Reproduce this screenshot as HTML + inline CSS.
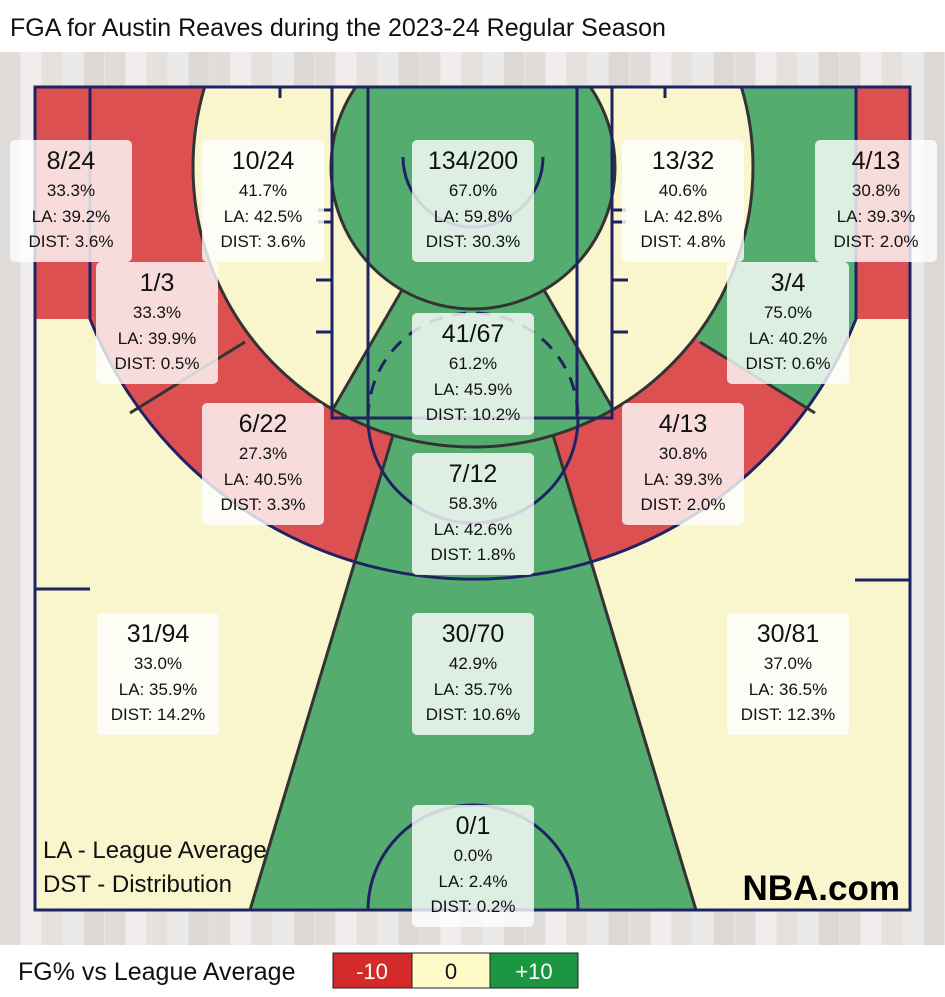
<!DOCTYPE html>
<html><head><meta charset="utf-8">
<style>
body{margin:0;background:#fff;width:945px;height:997px;overflow:hidden;font-family:"Liberation Sans Narrow","Liberation Sans",sans-serif;}
svg{display:block}
</style></head>
<body>
<svg id="chart" width="945" height="997" viewBox="0 0 945 997" xmlns="http://www.w3.org/2000/svg">
<defs>
 <clipPath id="courtClip"><rect x="35" y="87" width="875" height="823"/></clipPath>
 <clipPath id="arcClip"><path d="M90,87 L90,319 A412,412 0 0 0 856,319 L856,87 Z"/></clipPath>
 <clipPath id="innerClip"><circle cx="473" cy="167" r="280"/></clipPath>
 <clipPath id="rightHalf"><rect x="473" y="0" width="500" height="1000"/></clipPath>
</defs>
<rect x="0" y="0" width="945" height="52" fill="#fff"/>
<text x="10" y="36" font-size="25" fill="#111" font-family="Liberation Sans, sans-serif">FGA for Austin Reaves during the 2023-24 Regular Season</text>
<g id="wood"></g>
<g id="zones" clip-path="url(#courtClip)"></g>
<g id="lines" fill="none"></g>
<g id="labels"></g>
<text x="43" y="858" font-size="24" fill="#111">LA - League Average</text>
<text x="43" y="892" font-size="24" fill="#111">DST - Distribution</text>
<text x="900" y="900" font-size="35" font-weight="bold" text-anchor="end" fill="#000" font-family="Liberation Sans, sans-serif">NBA.com</text>
<rect x="0" y="945" width="945" height="52" fill="#fff"/>
<text x="18" y="980" font-size="25" fill="#111" font-family="Liberation Sans, sans-serif">FG% vs League Average</text>
<g>
 <rect x="333" y="953" width="79" height="35" fill="#d42a2a" stroke="#222"/>
 <text x="372" y="979" font-size="22" fill="#fff" text-anchor="middle" font-family="Liberation Sans, sans-serif">-10</text>
 <rect x="412" y="953" width="78" height="35" fill="#fffbc8" stroke="#222"/>
 <text x="451" y="979" font-size="22" fill="#111" text-anchor="middle" font-family="Liberation Sans, sans-serif">0</text>
 <rect x="490" y="953" width="88" height="35" fill="#1c9640" stroke="#222"/>
 <text x="534" y="979" font-size="22" fill="#fff" text-anchor="middle" font-family="Liberation Sans, sans-serif">+10</text>
</g>
</svg>
<script>
const zoneNames=["left-corner-3","left-baseline-mid","restricted-area","right-baseline-mid","right-corner-3","left-wing-mid-upper","right-wing-mid-upper","paint","left-wing-mid-lower","right-wing-mid-lower","center-mid","left-above-break-3","center-above-break-3","right-above-break-3","backcourt"];
const made=[8,10,134,13,4,1,3,41,6,4,7,31,30,30,0];
const attempts=[24,24,200,32,13,3,4,67,22,13,12,94,70,81,1];
const leagueAvg=[39.2,42.5,59.8,42.8,39.3,39.9,40.2,45.9,40.5,39.3,42.6,35.9,35.7,36.5,2.4];
const distribution=[3.6,3.6,30.3,4.8,2.0,0.5,0.6,10.2,3.3,2.0,1.8,14.2,10.6,12.3,0.2];
// label box layout (top-left) - layout only
const boxX=[10,202,412,622,815,96,727,412,202,622,412,97,412,727,412];
const boxY=[140,140,140,140,140,262,262,313,403,403,453,613,613,613,805];

const NS="http://www.w3.org/2000/svg";
function mk(tag,attrs,parent){const e=document.createElementNS(NS,tag);for(const k in attrs)e.setAttribute(k,attrs[k]);parent.appendChild(e);return e;}
const pct=made.map((m,i)=>attempts[i]?m/attempts[i]*100:0);
function zoneColor(i){const d=pct[i]-leagueAvg[i];if(i===14)return zoneColor(12);if(d>3)return "#54ad6e";if(d<-3)return "#dc5052";return "#f9f6cd";}

// wood background
const wood=document.getElementById('wood');
mk('rect',{x:0,y:52,width:945,height:893,fill:'#e9e7e5'},wood);
const woodCols=['#dddad7','#f1efed','#e3e0dd','#ecebea','#d8d5d2'];
for(let x=0;x<945;x+=21){const r=mk('rect',{x:x,y:52,width:20,height:893,fill:woodCols[(x/21)%5|0],opacity:0.8},wood);}

const Z=document.getElementById('zones');
function shape(tag,attrs,i,clip){const g=clip?mk('g',{'clip-path':'url(#'+clip+')'},Z):Z;const e=mk(tag,attrs,g);e.setAttribute('fill',zoneColor(i));


return e;}
// above-the-break / outside arc
shape('rect',{x:35,y:87,width:438,height:823},11);
shape('rect',{x:473,y:87,width:437,height:823},13);
shape('polygon',{points:'473,167 250,910 696,910'},12);
shape('rect',{x:35,y:87,width:55,height:232},0);
shape('rect',{x:856,y:87,width:54,height:232},4);
// mid-range ring inside arc
shape('rect',{x:0,y:0,width:473,height:1000},8,'arcClip');
shape('rect',{x:473,y:0,width:473,height:1000},9,'arcClip');
shape('polygon',{points:'0,87 473,87 320,250 245,342 100,432 0,496'},5,'arcClip');
shape('polygon',{points:'945,87 473,87 626,250 700,342 845,432 945,496'},6,'arcClip');
shape('polygon',{points:'473,167 250,910 696,910'},10,'arcClip');
// inner zone
shape('rect',{x:0,y:0,width:473,height:1000},1,'innerClip');
shape('rect',{x:473,y:0,width:473,height:1000},3,'innerClip');
shape('polygon',{points:'473,167 242,567 704,567'},7,'innerClip');
shape('circle',{cx:473,cy:167,r:142},2);

// zone boundary lines (gray)
const L=document.getElementById('lines');
const gl={stroke:'#333',"stroke-width":3,fill:'none'};
const cg=mk('g',{'clip-path':'url(#courtClip)'},L);
mk('circle',Object.assign({cx:473,cy:167,r:280},gl),cg);
mk('circle',Object.assign({cx:473,cy:167,r:142},gl),cg);
mk('line',Object.assign({x1:402,y1:290,x2:333,y2:409},gl),cg);
mk('line',Object.assign({x1:544,y1:290,x2:613,y2:409},gl),cg);
mk('line',Object.assign({x1:393,y1:435,x2:250,y2:910},gl),cg);
mk('line',Object.assign({x1:553,y1:435,x2:696,y2:910},gl),cg);
mk('line',Object.assign({x1:245,y1:342,x2:130,y2:413},gl),cg);
mk('line',Object.assign({x1:700,y1:342,x2:815,y2:413},gl),cg);
// court lines navy
const nv={stroke:'#1f2263',"stroke-width":3,fill:'none'};
mk('rect',Object.assign({x:35,y:87,width:875,height:823},nv),L);
mk('path',Object.assign({d:'M90,87 L90,319 A412,412 0 0 0 856,319 L856,87'},nv),L);
mk('rect',Object.assign({x:332,y:87,width:280,height:331},nv),L);
mk('path',Object.assign({d:'M368,87 L368,418 M577,87 L577,418'},nv),L);
mk('path',Object.assign({d:'M318,210 H332 M318,222 H332 M316,280 H332 M316,332 H332 M612,210 H626 M612,222 H626 M612,280 H628 M612,332 H628 M280,87 V98 M665,87 V98 M35,589 H90 M855,580 H910'},nv),L);
mk('path',Object.assign({d:'M368,418 A105,105 0 0 1 578,418','stroke-dasharray':'14,10'},nv),L);
mk('path',Object.assign({d:'M368,418 A105,105 0 0 0 578,418'},nv),L);
mk('path',Object.assign({d:'M368,910 A105,105 0 0 1 578,910'},nv),L);
mk('path',Object.assign({d:'M403,157 A70,70 0 0 0 543,157'},nv),L);

// labels
const LB=document.getElementById('labels');
for(let i=0;i<zoneNames.length;i++){
 const g=mk('g',{},LB);
 
 
 const x=boxX[i],y=boxY[i],cx=x+61;
 mk('rect',{x:x,y:y,width:122,height:122,rx:5,fill:'#fff','fill-opacity':0.8},g);
 const t1=mk('text',{x:cx,y:y+29,'font-size':25,'text-anchor':'middle',fill:'#111'},g);t1.textContent=made[i]+'/'+attempts[i];
 const t2=mk('text',{x:cx,y:y+56,'font-size':17,'text-anchor':'middle',fill:'#111'},g);t2.textContent=pct[i].toFixed(1)+'%';
 const t3=mk('text',{x:cx,y:y+82,'font-size':17,'text-anchor':'middle',fill:'#111'},g);t3.textContent='LA: '+leagueAvg[i].toFixed(1)+'%';
 const t4=mk('text',{x:cx,y:y+107,'font-size':17,'text-anchor':'middle',fill:'#111'},g);t4.textContent='DIST: '+distribution[i].toFixed(1)+'%';
}
</script>
</body></html>
